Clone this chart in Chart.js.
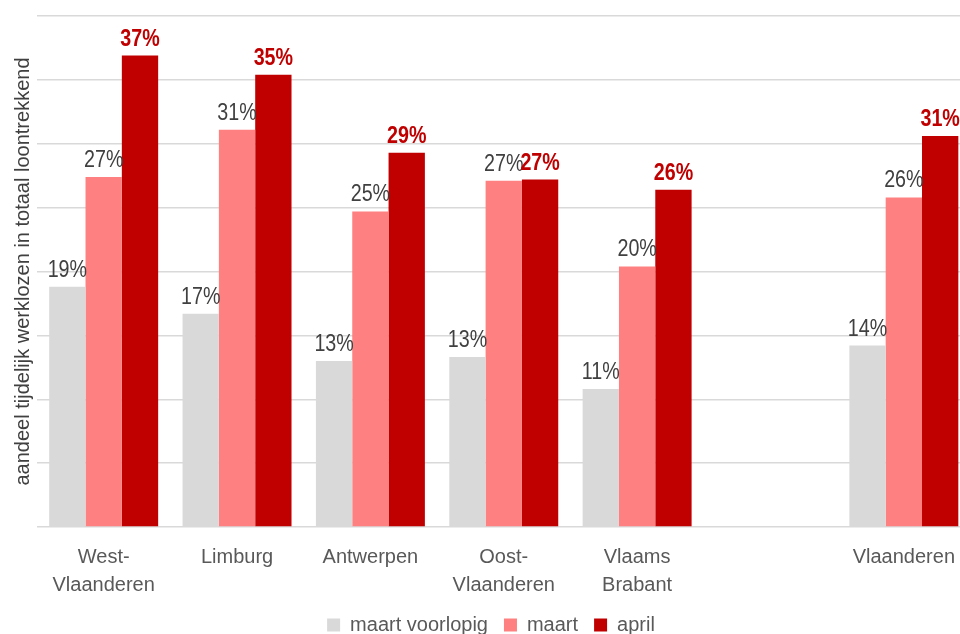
<!DOCTYPE html>
<html>
<head>
<meta charset="utf-8">
<script src="https://cdn.jsdelivr.net/npm/chart.js@4"></script>
<style>
    html, body { margin: 0; padding: 0; background: #fff; overflow: hidden; }
    #wrap { position: absolute; left: 0; top: 0; width: 971px; height: 645px; }
</style>
</head>
<body>
<div id="wrap"><canvas id="chart"></canvas></div>
<script>
const regions = [['West-', 'Vlaanderen'], 'Limburg', 'Antwerpen', ['Oost-', 'Vlaanderen'], ['Vlaams', 'Brabant'], '', 'Vlaanderen'];
const maartVoorlopig = [18.8, 16.7, 13.0, 13.3, 10.8, null, 14.2];
const maart = [27.4, 31.1, 24.7, 27.1, 20.4, null, 25.8];
const april = [36.9, 35.4, 29.3, 27.2, 26.4, null, 30.6];
const seriesNames = ['maart voorlopig', 'maart', 'april'];

const FONT = '"Liberation Sans", Arial, sans-serif';
const ctx = document.querySelector('#chart').getContext('2d');

// labels above each bar, april in bold red (condensed look: scaled 24px text)
const barLabels = {
    id: 'barLabels',
    afterDatasetsDraw(chart) {
        const c = chart.ctx;
        const sx = 0.82;
        chart.data.datasets.forEach((ds, i) => {
            const meta = chart.getDatasetMeta(i);
            const bold = i === 2;
            meta.data.forEach((el, j) => {
                const v = ds.data[j];
                if (v === null) return;
                c.save();
                c.font = (bold ? 'bold ' : '') + '24px ' + FONT;
                c.fillStyle = bold ? '#c00000' : '#404040';
                c.textAlign = 'center';
                c.textBaseline = 'alphabetic';
                c.translate(el.x, el.y - 10);
                c.scale(sx, 1);
                c.fillText(Math.round(v) + '%', 0, 0);
                c.restore();
            });
        });
    }
};

new Chart(ctx, {
    type: 'bar',
    data: {
        labels: regions,
        datasets: [
            { label: seriesNames[0], data: maartVoorlopig, backgroundColor: '#d9d9d9' },
            { label: seriesNames[1], data: maart, backgroundColor: '#ff8080' },
            { label: seriesNames[2], data: april, backgroundColor: '#c00000' }
        ]
    },
    options: {
        responsive: true,
        maintainAspectRatio: false,
        animation: false,
        datasets: {
            bar: { categoryPercentage: 0.817, barPercentage: 1.0 }
        },
        layout: { padding: { left: 11, top: 16, right: 0, bottom: 0 } },
        plugins: {
            legend: {
                position: 'bottom',
                labels: {
                    boxWidth: 13,
                    boxHeight: 13,
                    padding: 16,
                    color: '#595959',
                    font: { family: FONT, size: 20 }
                }
            },
            tooltip: { enabled: false }
        },
        scales: {
            x: {
                grid: { display: false, drawTicks: false },
                border: { display: false },
                ticks: {
                    padding: 16,
                    color: '#595959',
                    maxRotation: 0,
                    autoSkip: false,
                    font: { family: FONT, size: 20, lineHeight: 1.4 }
                },
                afterFit: (scale) => { scale.height = 72; }
            },
            y: {
                min: 0,
                max: 40,
                ticks: { display: false, stepSize: 5 },
                grid: { color: '#d9d9d9', lineWidth: 1.5, drawTicks: false },
                border: { display: false },
                title: {
                    display: true,
                    text: 'aandeel tijdelijk werklozen in totaal loontrekkend',
                    color: '#404040',
                    padding: { top: 0, bottom: 0 },
                    font: { family: FONT, size: 20, lineHeight: 1.2 }
                },
                afterFit: (scale) => { scale.width = 26; }
            }
        }
    },
    plugins: [barLabels]
});
</script>
</body>
</html>
